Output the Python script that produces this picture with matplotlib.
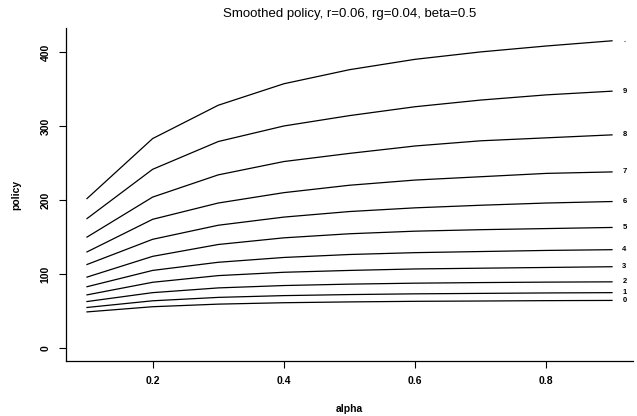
import numpy as np
import matplotlib
matplotlib.use("Agg")
import matplotlib.pyplot as plt

plt.rcParams['font.family'] = ['Liberation Sans', 'DejaVu Sans']

# smoothed policy for each curve, evaluated on the alpha grid
alpha = [0.1, 0.2, 0.3, 0.4, 0.5, 0.6, 0.7, 0.8, 0.9]
curve_labels = ["0", "1", "2", "3", "4", "5", "6", "7", "8", "9", "."]
policy = [
    [49, 56, 59.5, 61.4, 62.5, 63.3, 63.7, 64.2, 64.5],
    [55, 64, 68.6, 71, 72.4, 73.4, 74, 74.6, 75],
    [63, 75, 81.4, 84.6, 86.5, 87.8, 88.6, 89.2, 89.6],
    [72, 89, 98, 102.5, 105, 107, 108, 109, 110],
    [83, 105, 116, 122.5, 126.5, 129, 130.5, 132, 133],
    [96, 124, 140, 149, 154.5, 158, 160, 161.5, 163],
    [113, 147, 166, 177, 184.5, 189.5, 193, 196, 198],
    [130, 174, 196, 210, 220, 227, 231.5, 236, 238],
    [150, 204, 234, 252, 263, 273, 280, 284, 288],
    [175, 241.5, 279, 300, 314, 326, 335, 342, 347],
    [202, 283, 328, 357, 376, 390, 400, 408, 415],
]

fig = plt.figure(figsize=(6.37, 4.16), dpi=100)
ax = fig.add_axes([66 / 637, 1 - 360.5 / 416, (633 - 66) / 637, (360.5 - 28.5) / 416])

for vals, lab in zip(policy, curve_labels):
    ax.plot(alpha, vals, color="black", lw=0.9)
    ax.text(alpha[-1] + 0.019, vals[-1], lab, fontsize=5.5, fontweight="bold",
            ha="center", va="center")

# R-like padding of 4% on both axes
xr = alpha[-1] - alpha[0]
ymax = max(max(v) for v in policy)
ax.set_xlim(alpha[0] - 0.04 * xr, alpha[-1] + 0.04 * xr)
ax.set_ylim(-0.04 * ymax, ymax * 1.04)

ax.spines["top"].set_visible(False)
ax.spines["right"].set_visible(False)
for s in ("left", "bottom"):
    ax.spines[s].set_linewidth(0.9)

ax.set_xticks([0.2, 0.4, 0.6, 0.8])
ax.set_xticklabels(["0.2", "0.4", "0.6", "0.8"])
ax.set_yticks([0, 100, 200, 300, 400])
ax.set_yticklabels(["0", "100", "200", "300", "400"], rotation=90, va="center")
ax.tick_params(axis="both", direction="out", length=5, width=0.8,
               labelsize=7.5, pad=6)
for t in ax.get_xticklabels() + ax.get_yticklabels():
    t.set_fontweight("bold")

ax.set_xlabel("alpha", fontsize=7.5, fontweight="bold", labelpad=13)
ax.set_ylabel("policy", fontsize=7.5, fontweight="bold", labelpad=14)
ax.set_title("Smoothed policy, r=0.06, rg=0.04, beta=0.5", fontsize=9.5, pad=8)

fig.savefig("out.png", dpi=100)
